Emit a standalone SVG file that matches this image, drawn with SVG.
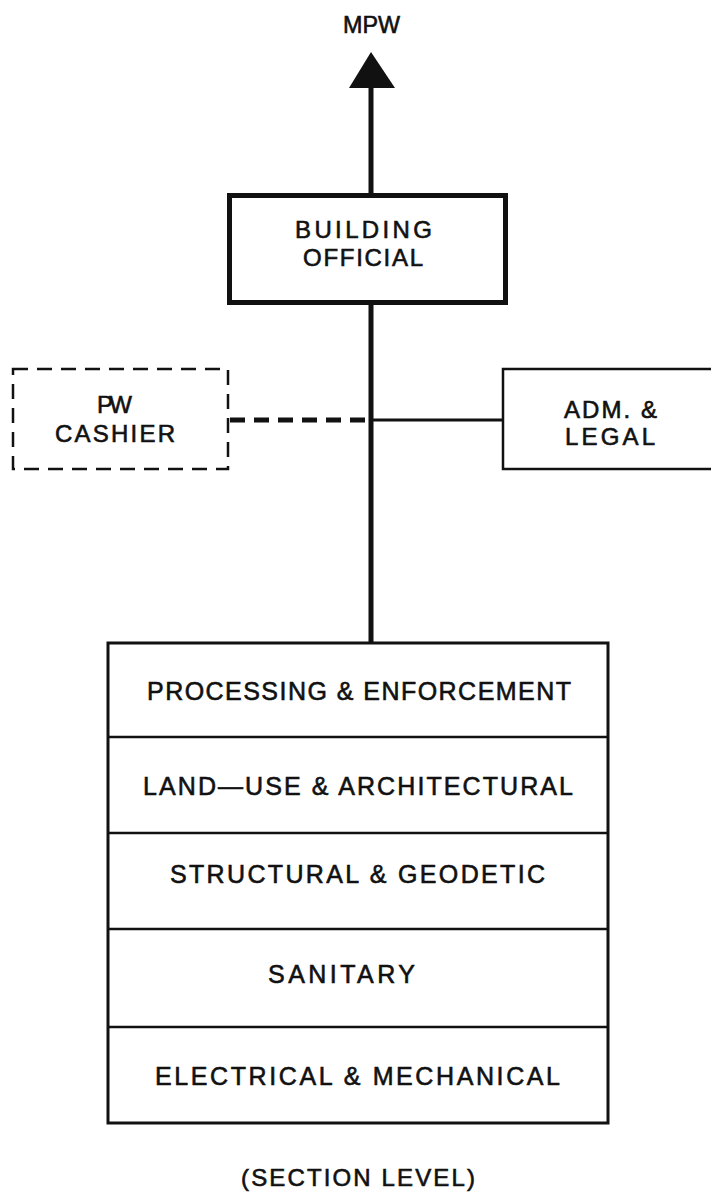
<svg xmlns="http://www.w3.org/2000/svg" width="711" height="1192" viewBox="0 0 711 1192">
<style>
text{font-family:"Liberation Sans",Arial,sans-serif;font-size:24px;fill:#111;text-anchor:middle;stroke:#111;stroke-width:0.6px}
.big{font-size:25px}
.box{fill:#fff;stroke:#111}
.conn{stroke:#111;fill:none}
</style>
<rect width="711" height="1192" fill="#fff"/>
<g id="connectors">
<line class="conn" x1="371" y1="86" x2="371" y2="195" stroke-width="5"/>
<polygon points="371,52 349,88 395,88" fill="#111"/>
<line class="conn" x1="371" y1="304" x2="371" y2="644" stroke-width="5"/>
<line class="conn" x1="230" y1="420" x2="371" y2="420" stroke-width="5" stroke-dasharray="15,9"/>
<line class="conn" x1="371" y1="420" x2="503" y2="420" stroke-width="3"/>
</g>
<g id="mpw"><text x="371.5" y="33" textLength="57" lengthAdjust="spacingAndGlyphs">MPW</text></g>
<g id="building-official">
<rect class="box" x="229.5" y="195.5" width="276" height="107" stroke-width="5"/>
<text x="363.5" y="238" textLength="137" lengthAdjust="spacing">BUILDING</text>
<text x="363" y="266" textLength="120" lengthAdjust="spacing">OFFICIAL</text>
</g>
<g id="pw-cashier">
<rect class="box" x="13" y="369" width="215" height="100" stroke-width="2.5" stroke-dasharray="15,9"/>
<text x="114.5" y="413" textLength="35" lengthAdjust="spacing">PW</text>
<text x="115" y="442" textLength="120" lengthAdjust="spacing">CASHIER</text>
</g>
<g id="adm-legal">
<rect class="box" x="503" y="369" width="215" height="100" stroke-width="2.5"/>
<text x="610.5" y="418" textLength="93" lengthAdjust="spacing">ADM. &amp;</text>
<text x="610" y="445" textLength="90" lengthAdjust="spacing">LEGAL</text>
</g>
<g id="sections">
<rect class="box" x="108" y="643" width="500" height="480" stroke-width="3"/>
<line class="conn" x1="108" y1="737" x2="608" y2="737" stroke-width="2.5"/>
<line class="conn" x1="108" y1="833" x2="608" y2="833" stroke-width="2.5"/>
<line class="conn" x1="108" y1="929" x2="608" y2="929" stroke-width="2.5"/>
<line class="conn" x1="108" y1="1027" x2="608" y2="1027" stroke-width="2.5"/>
<text class="big" x="359" y="700" textLength="424" lengthAdjust="spacing">PROCESSING &amp; ENFORCEMENT</text>
<text class="big" x="358" y="795" textLength="430" lengthAdjust="spacing">LAND—USE &amp; ARCHITECTURAL</text>
<text class="big" x="357.5" y="883" textLength="375" lengthAdjust="spacing">STRUCTURAL &amp; GEODETIC</text>
<text class="big" x="341.5" y="983" textLength="147" lengthAdjust="spacing">SANITARY</text>
<text class="big" x="357.5" y="1085" textLength="405" lengthAdjust="spacing">ELECTRICAL &amp; MECHANICAL</text>
</g>
<g id="section-level"><text x="358" y="1186" textLength="234" lengthAdjust="spacing">(SECTION LEVEL)</text></g>
</svg>
